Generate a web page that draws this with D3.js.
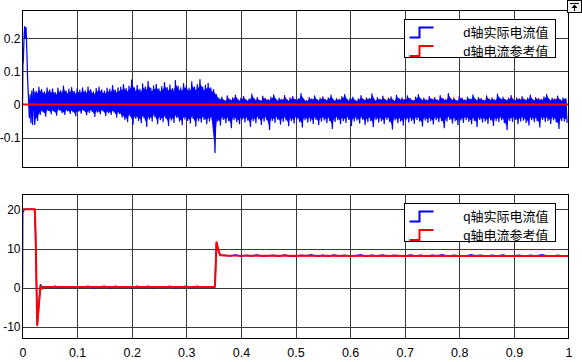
<!DOCTYPE html>
<html><head><meta charset="utf-8">
<script src="https://cdn.jsdelivr.net/npm/d3@7"></script>
<style>
html,body{margin:0;padding:0;background:#fff;}
svg{display:block;}
text{font-family:"Liberation Sans",Arial,"Noto Sans CJK SC",sans-serif;}
</style></head>
<body>
<svg id="chart" width="582" height="362"></svg>
<script>
// ---------- data ----------
const xTicks = [0, 0.1, 0.2, 0.3, 0.4, 0.5, 0.6, 0.7, 0.8, 0.9, 1];
const xTickLabels = ["0", "0.1", "0.2", "0.3", "0.4", "0.5", "0.6", "0.7", "0.8", "0.9", "1"];
const dTicks = [-0.1, 0, 0.1, 0.2];
const dTickLabels = ["-0.1", "0", "0.1", "0.2"];
const qTicks = [-10, 0, 10, 20];
const qTickLabels = ["-10", "0", "10", "20"];

const dLegend = ["d轴实际电流值", "d轴电流参考值"];
const qLegend = ["q轴实际电流值", "q轴电流参考值"];

// d-axis actual current: start-up transient
const dStartT = [0, 0.0008, 0.0015, 0.003, 0.004, 0.005, 0.0065, 0.008, 0.0095, 0.011, 0.0125, 0.014, 0.0155, 0.017, 0.0185];
const dStartV = [0, 0.12, 0.13, 0.21, 0.235, 0.20, 0.232, 0.16, 0.07, 0.02, -0.04, 0.03, -0.055, 0.04, -0.06];
// d-axis actual current: ripple envelope per 0.005 s bin from t = 0.020 s
const dBinStart = 0.02, dBinStep = 0.005;
const dMax = [
 0.048,0.040,0.052,0.045,0.038,0.050,0.044,0.047,0.036,0.049,0.042,0.055,0.040,0.046,0.051,0.039,0.047,0.043,0.050,0.041,0.053,0.045,0.038,0.048,0.052,0.044,0.040,0.049,0.046,0.057,0.043,0.050,
 0.052,0.060,0.048,0.055,0.074,0.050,0.058,0.046,0.062,0.053,0.070,0.049,0.056,0.061,0.047,0.054,0.066,0.051,0.059,0.048,0.072,0.055,0.050,0.063,0.057,0.049,0.068,0.053,0.060,0.075,0.052,0.058,0.064,0.050,
 0.045,
 0.030,0.018,0.022,0.012,0.026,0.015,0.020,0.028,0.014,0.019,
 0.024,0.013,0.017,0.031,0.016,0.021,0.012,0.025,0.018,0.015,
 0.022,0.029,0.014,0.019,0.016,0.027,0.013,0.020,0.024,0.015,
 0.018,0.033,0.016,0.012,0.021,0.017,0.026,0.014,0.019,0.023,
 0.015,0.020,0.028,0.013,0.018,0.016,0.024,0.030,0.014,0.019,
 0.022,0.012,0.017,0.027,0.015,0.020,0.018,0.032,0.013,0.021,
 0.016,0.025,0.014,0.019,0.023,0.012,0.028,0.017,0.020,0.015,
 0.026,0.018,0.013,0.022,0.030,0.016,0.019,0.014,0.024,0.017,
 0.021,0.013,0.027,0.018,0.015,0.033,0.016,0.020,0.012,0.025,
 0.019,0.014,0.022,0.017,0.029,0.015,0.021,0.018,0.013,0.026,
 0.016,0.020,0.014,0.031,0.018,0.022,0.015,0.019,0.027,0.013,
 0.020,0.017,0.024,0.015,0.019,0.028,0.014,0.021,0.018,0.016,
 0.023,0.030,0.015,0.019,0.017,0.025,0.014,0.020,0.018
];
const dMin = [
 -0.060,-0.048,-0.030,-0.022,-0.035,-0.018,-0.028,-0.020,-0.032,-0.017,-0.025,-0.030,-0.019,-0.027,-0.022,-0.034,-0.020,-0.026,-0.018,-0.031,-0.024,-0.020,-0.036,-0.023,-0.028,-0.019,-0.033,-0.025,-0.030,-0.022,-0.038,-0.027,
 -0.038,-0.045,-0.052,-0.035,-0.060,-0.042,-0.048,-0.055,-0.040,-0.066,-0.044,-0.050,-0.037,-0.058,-0.046,-0.052,-0.041,-0.063,-0.047,-0.054,-0.039,-0.050,-0.061,-0.044,-0.048,-0.056,-0.042,-0.065,-0.049,-0.053,-0.045,-0.058,-0.050,-0.047,
 -0.145,
 -0.050,-0.062,-0.045,-0.055,-0.048,-0.070,-0.046,-0.052,-0.058,-0.044,
 -0.053,-0.047,-0.066,-0.049,-0.055,-0.043,-0.060,-0.050,-0.046,-0.075,
 -0.048,-0.054,-0.045,-0.059,-0.051,-0.047,-0.064,-0.049,-0.056,-0.044,
 -0.052,-0.068,-0.046,-0.053,-0.049,-0.057,-0.045,-0.061,-0.050,-0.047,
 -0.055,-0.048,-0.072,-0.051,-0.046,-0.058,-0.049,-0.054,-0.045,-0.063,
 -0.050,-0.047,-0.056,-0.044,-0.060,-0.052,-0.048,-0.067,-0.046,-0.053,
 -0.049,-0.058,-0.045,-0.051,-0.074,-0.047,-0.055,-0.050,-0.062,-0.046,
 -0.053,-0.048,-0.057,-0.045,-0.050,-0.065,-0.047,-0.054,-0.049,-0.059,
 -0.046,-0.052,-0.048,-0.070,-0.050,-0.045,-0.056,-0.049,-0.061,-0.047,
 -0.054,-0.046,-0.051,-0.058,-0.048,-0.066,-0.045,-0.053,-0.050,-0.057,
 -0.047,-0.063,-0.049,-0.052,-0.046,-0.055,-0.076,-0.048,-0.051,-0.045,
 -0.058,-0.050,-0.047,-0.054,-0.062,-0.046,-0.052,-0.049,-0.068,-0.045,
 -0.051,-0.048,-0.057,-0.046,-0.053,-0.072,-0.049,-0.050,-0.055
];
// d-axis reference
const dRefT = [0, 1];
const dRefV = [0, 0];

// q-axis actual current
const qStartT = [0, 0.0005, 0.001, 0.004, 0.022, 0.0235, 0.027, 0.030, 0.033, 0.036];
const qStartV = [0, 19, 19.3, 20, 20, 15, -9.3, -4, 0.8, 0.1];
const qLowStart = 0.04, qStep = 0.01;
const qLowV = [0.3,0.1,0.4,0.0,0.3,0.1,0.3,0.1,0.4,0.0,0.2,0.4,0.0,0.4,0.1,0.3,0.0,0.4,0.1,0.4,0.0,0.3,0.1,0.4,0.0,0.2,0.4,0.0,0.4,0.1,0.3];
const qStepT = [0.3525, 0.355, 0.3575, 0.362];
const qStepV = [0.2, 11.5, 10.0, 8.3];
const qHighStart = 0.37;
const qHighV = [
 8.3,8.1,8.4,8.0,8.3,8.1,8.4,8.0,8.2,8.3,
 8.0,8.4,8.1,8.0,8.3,8.2,8.4,8.0,8.3,8.0,
 8.4,8.1,8.3,8.0,8.2,8.4,8.0,8.3,8.1,8.4,
 8.0,8.3,8.2,8.0,8.4,8.1,8.3,8.0,8.3,8.2,
 8.4,8.0,8.3,8.1,8.0,8.4,8.2,8.3,8.0,8.3,
 8.1,8.4,8.0,8.2,8.3,8.0,8.3,8.1,8.4,8.2,
 8.0,8.3,8.1,8.2
];
// q-axis reference
const qRefT = [0, 0.0225, 0.024, 0.027, 0.030, 0.033, 0.036, 0.040, 0.350, 0.3525, 0.3555, 0.3585, 0.362, 0.370, 1.0];
const qRefV = [20, 20, 14, -9.5, -4.5, 0.6, -0.2, 0.2, 0.2, 0.3, 11.6, 9.8, 8.3, 8.2, 8.1];

// ---------- build series ----------
const dStart = dStartT.map((t, i) => [t, dStartV[i]]);
const dBins = dMax.map((v, i) => ({ t: dBinStart + i * dBinStep, hi: v, lo: dMin[i] }));
const dZig = [];
dBins.forEach(b => { dZig.push([b.t, b.hi]); dZig.push([b.t + dBinStep / 2, b.lo]); });
const dActualLine = dStart.concat(dZig);
const dRef = dRefT.map((t, i) => [t, dRefV[i]]);

const qActual = qStartT.map((t, i) => [t, qStartV[i]]);
qLowV.forEach((v, i) => qActual.push([qLowStart + i * qStep, v]));
qStepT.forEach((t, i) => qActual.push([t, qStepV[i]]));
qHighV.forEach((v, i) => qActual.push([qHighStart + i * qStep, v]));
const qRef = qRefT.map((t, i) => [t, qRefV[i]]);

// ---------- drawing ----------
const svg = d3.select("#chart");
const X0 = 22.5, X1 = 568.5;
const x = d3.scaleLinear().domain([0, 1]).range([X0, X1]);
const BLUE = "#0000ff", RED = "#ff0000";
const CORE = 0.82; // share of the envelope that is densely filled

const panels = [
  { top: 10.5, bottom: 167.5, domain: [-0.19, 0.2834], ticks: dTicks, labels: dTickLabels,
    band: dBins,
    series: [{ data: dActualLine, color: BLUE, w: 1.25 }, { data: dRef, color: RED, w: 2 }],
    legend: dLegend, showX: false, legTop: 19.5 },
  { top: 194.5, bottom: 338.5, domain: [-12.9, 23.75], ticks: qTicks, labels: qTickLabels,
    band: null,
    series: [{ data: qActual, color: BLUE, w: 1.4 }, { data: qRef, color: RED, w: 2 }],
    legend: qLegend, showX: true, legTop: 203.5 }
];

panels.forEach((p, pi) => {
  const y = d3.scaleLinear().domain(p.domain).range([p.bottom, p.top]);
  const g = svg.append("g");
  g.append("rect").attr("x", X0).attr("y", p.top).attr("width", X1 - X0).attr("height", p.bottom - p.top)
    .attr("fill", "#fff");
  const clipId = "clip" + pi;
  svg.append("clipPath").attr("id", clipId).append("rect")
    .attr("x", X0).attr("y", p.top).attr("width", X1 - X0).attr("height", p.bottom - p.top);
  // grid
  g.selectAll(".vg").data(xTicks.slice(1, -1)).enter().append("line")
    .attr("x1", d => Math.round(x(d)) + 0.5).attr("x2", d => Math.round(x(d)) + 0.5)
    .attr("y1", p.top).attr("y2", p.bottom).attr("stroke", "#3a3a3a").attr("stroke-width", 1);
  g.selectAll(".hg").data(p.ticks).enter().append("line")
    .attr("y1", d => Math.round(y(d)) + 0.5).attr("y2", d => Math.round(y(d)) + 0.5)
    .attr("x1", X0).attr("x2", X1).attr("stroke", "#3a3a3a").attr("stroke-width", 1);
  // lines
  const line = d3.line().x(d => x(d[0])).y(d => y(d[1]));
  const lg = g.append("g").attr("clip-path", `url(#${clipId})`);
  if (p.band) {
    const area = d3.area().x(d => x(d.t + dBinStep / 4))
      .y0(d => y(d.lo * CORE)).y1(d => y(d.hi * CORE));
    lg.append("path").datum(p.band).attr("d", area).attr("fill", BLUE);
  }
  p.series.forEach(s => {
    lg.append("path").datum(s.data).attr("d", line).attr("fill", "none")
      .attr("stroke", s.color).attr("stroke-width", s.w).attr("stroke-linejoin", "round");
  });
  // frame
  g.append("rect").attr("x", X0).attr("y", p.top).attr("width", X1 - X0).attr("height", p.bottom - p.top)
    .attr("fill", "none").attr("stroke", "#000").attr("stroke-width", 1);
  // y axis labels
  const yAxis = d3.axisLeft(y).tickValues(p.ticks).tickSize(0).tickPadding(2)
    .tickFormat((d, i) => p.labels[i]);
  const ya = g.append("g").attr("transform", `translate(${X0},0)`).call(yAxis);
  ya.select(".domain").remove();
  ya.selectAll("text").attr("font-size", 12).attr("fill", "#000")
    .attr("font-family", '"Liberation Sans", Arial, sans-serif');
  if (p.showX) {
    const xAxis = d3.axisBottom(x).tickValues(xTicks).tickSize(0).tickPadding(10)
      .tickFormat((d, i) => xTickLabels[i]);
    const xa = g.append("g").attr("transform", `translate(0,${p.bottom})`).call(xAxis);
    xa.select(".domain").remove();
    xa.selectAll("text").attr("font-size", 12.5).attr("fill", "#000")
      .attr("font-family", '"Liberation Sans", Arial, sans-serif');
  }
  // legend
  const lgX = 404.5, lgW = 151, lgH = 38;
  const leg = g.append("g");
  leg.append("rect").attr("x", lgX).attr("y", p.legTop).attr("width", lgW).attr("height", lgH)
    .attr("fill", "#fff").attr("stroke", "#000").attr("stroke-width", 1);
  p.legend.forEach((txt, i) => {
    const cy = p.legTop + 13 + i * 18.5;
    const col = p.series[i].color;
    leg.append("path")
      .attr("d", `M${lgX + 5},${cy + 5} H${lgX + 15} V${cy - 5} H${lgX + 29}`)
      .attr("fill", "none").attr("stroke", col).attr("stroke-width", 2);
    leg.append("text").attr("x", lgX + 144).attr("y", cy).attr("dy", "0.36em")
      .attr("text-anchor", "end").attr("font-size", 13)
      .attr("font-family", '"Liberation Sans", "Noto Sans CJK SC", sans-serif')
      .attr("fill", "#000").text(txt);
  });
});

// top-right toolbar icon
const ic = svg.append("g");
ic.append("rect").attr("x", 567.5).attr("y", 0.5).attr("width", 14).attr("height", 12)
  .attr("fill", "#f0f0f0").attr("stroke", "#000").attr("stroke-width", 1);
ic.append("line").attr("x1", 570).attr("x2", 579).attr("y1", 3.5).attr("y2", 3.5).attr("stroke", "#000");
ic.append("path").attr("d", "M574.5,4.5 L571.5,8 H577.5 Z").attr("fill", "#000");
ic.append("line").attr("x1", 574.5).attr("x2", 574.5).attr("y1", 7).attr("y2", 11).attr("stroke", "#000");
</script>
</body></html>
